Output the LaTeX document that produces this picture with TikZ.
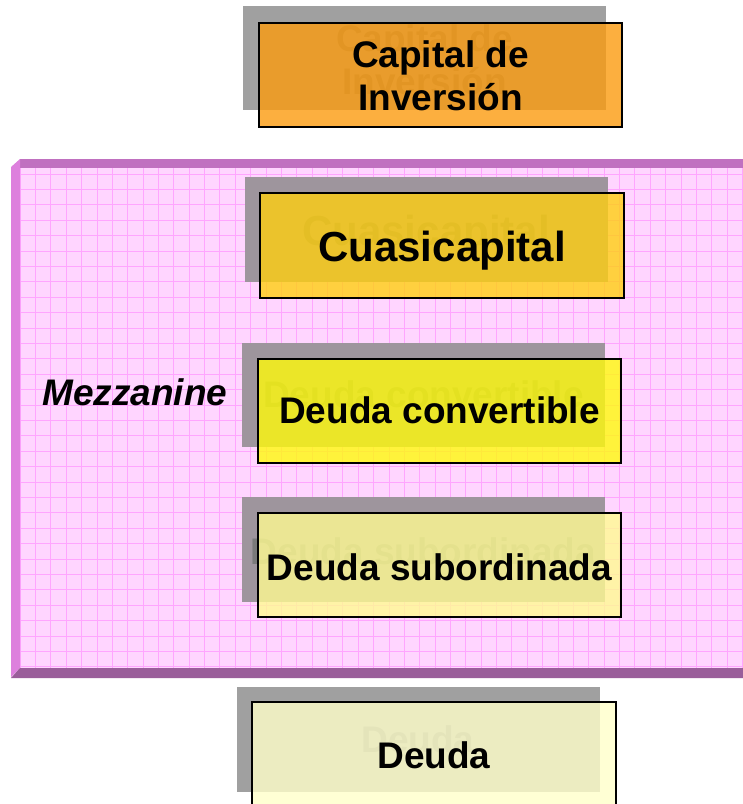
\documentclass[tikz,border=0pt]{standalone}
\usepackage{fontspec}
\setmainfont{Liberation Sans}
\definecolor{pinkbg}{RGB}{255,213,255}
\definecolor{gridpink}{RGB}{255,165,255}
\definecolor{bandtop}{RGB}{192,112,192}
\definecolor{bandleft}{RGB}{221,128,221}
\definecolor{bandbot}{RGB}{154,94,154}
\definecolor{shadowout}{RGB}{160,160,160}
\definecolor{shadowin}{RGB}{158,149,157}
\definecolor{ghostgray}{RGB}{122,122,122}
\definecolor{cOrange}{RGB}{252,156,15}
\definecolor{cGold}{RGB}{255,207,16}
\definecolor{cYellow}{RGB}{255,251,11}
\definecolor{cPale}{RGB}{255,251,146}
\definecolor{cCream}{RGB}{255,255,202}
\begin{document}
\begin{tikzpicture}[x=1pt,y=-1pt,
  gridline/.style={draw=gridpink,line width=0.7pt},
  frontbox/.style={fill opacity=0.8,draw=black,draw opacity=1,line width=1.5pt},
  lbl/.style={font=\fontsize{37}{43}\selectfont\bfseries,anchor=base,inner sep=0pt},
  biglbl/.style={font=\fontsize{42}{48}\selectfont\bfseries,anchor=base,inner sep=0pt},
  ghost/.style={text=ghostgray}]
\useasboundingbox (0,0) rectangle (743,804);
\clip (0,0) rectangle (743,804);
\fill[white] (0,0) rectangle (743,804);

% Mezzanine panel
\fill[pinkbg] (20,168) rectangle (743,668);
\foreach \i in {0,...,47} \draw[gridline] (20+\i*15.37,168) -- (20+\i*15.37,668);
\foreach \j in {0,...,32} \draw[gridline] (20,174+\j*15.4) -- (743,174+\j*15.4);
\fill[bandtop] (20,159) -- (743,159) -- (743,168) -- (20,168) -- cycle;
\fill[bandleft] (11,167) -- (20,159) -- (20,668) -- (11,677) -- cycle;
\fill[bandbot] (11,678) -- (20,668) -- (743,668) -- (743,678) -- cycle;
\node[font=\fontsize{37}{43}\selectfont\bfseries\itshape,anchor=base west,inner sep=0pt] (mezz) at (42,405) {Mezzanine};

% Capital de Inversion
\fill[shadowout] (243,6) rectangle (606,110);
\node[lbl,ghost] (capAg) at (424.5,51) {Capital de};
\node[lbl,ghost] (capBg) at (424.5,94) {Inversión};
\path[frontbox,fill=cOrange] (259,23) rectangle (622,127);
\node[lbl] (capA) at (440.5,67) {Capital de};
\node[lbl] (capB) at (440.5,110) {Inversión};

% Cuasicapital
\fill[shadowin] (245,177) rectangle (608,282);
\node[biglbl,ghost] (cuasig) at (426,245) {Cuasicapital};
\path[frontbox,fill=cGold] (260,193) rectangle (624,298);
\node[biglbl] (cuasi) at (442,261) {Cuasicapital};

% Deuda convertible
\fill[shadowin] (242,343) rectangle (605,447);
\node[lbl,ghost] (convg) at (423.5,407) {Deuda convertible};
\path[frontbox,fill=cYellow] (258,359) rectangle (621,463);
\node[lbl] (conv) at (439.5,423) {Deuda convertible};

% Deuda subordinada
\fill[shadowin] (242,497) rectangle (605,602);
\node[lbl,ghost] (subg) at (423.5,564) {Deuda subordinada};
\path[frontbox,fill=cPale] (258,513) rectangle (621,617);
\node[lbl] (sub) at (439.5,580) {Deuda subordinada};

% Deuda
\fill[shadowout] (237,687) rectangle (600,792);
\node[lbl,ghost] (deudag) at (418,752) {Deuda};
\path[frontbox,fill=cCream] (252,702) rectangle (616,812);
\node[lbl] (deuda) at (434,768) {Deuda};
\end{tikzpicture}
\end{document}
